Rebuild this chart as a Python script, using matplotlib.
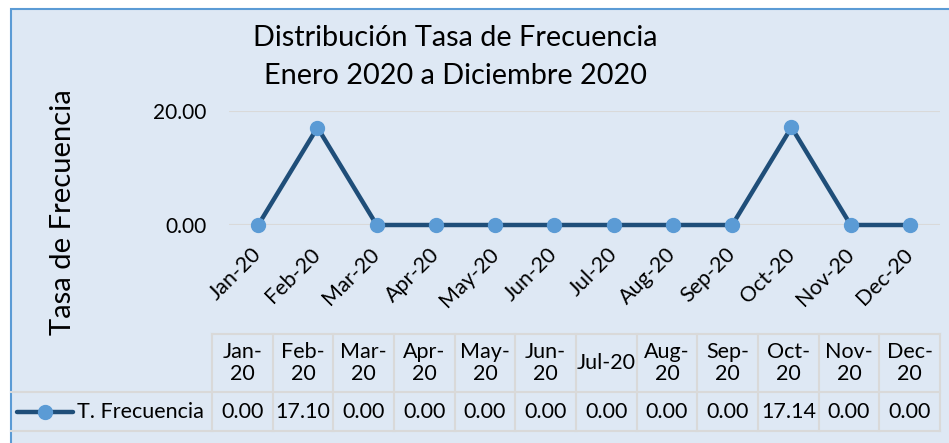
import numpy as np
import matplotlib.pyplot as plt
from matplotlib.patches import Rectangle
from matplotlib.lines import Line2D

plt.rcParams['font.family'] = ['Lato', 'DejaVu Sans']

# datos
meses = ["Jan-20", "Feb-20", "Mar-20", "Apr-20", "May-20", "Jun-20",
         "Jul-20", "Aug-20", "Sep-20", "Oct-20", "Nov-20", "Dec-20"]
encabezados = ["Jan-\n20", "Feb-\n20", "Mar-\n20", "Apr-\n20", "May-\n20", "Jun-\n20",
               "Jul-20", "Aug-\n20", "Sep-\n20", "Oct-\n20", "Nov-\n20", "Dec-\n20"]
tasa = [0.00, 17.10, 0.00, 0.00, 0.00, 0.00, 0.00, 0.00, 0.00, 17.14, 0.00, 0.00]
serie = "T. Frecuencia"
titulo = ["Distribución Tasa de Frecuencia", "Enero 2020 a Diciembre 2020"]

W, H = 949, 443
fondo = "#DEE8F4"
borde = "#5B9BD5"
linea = "#1F4E79"
marcador = "#5B9BD5"
rejilla = "#D9D9D9"

fig = plt.figure(figsize=(W / 100, H / 100), dpi=100)
fig.patch.set_facecolor("white")

# marco del grafico
marco = Rectangle((11 / W, -0.05), 1.0, (H - 9) / H + 0.05,
                  transform=fig.transFigure, facecolor=fondo,
                  edgecolor=borde, linewidth=1.5)
marco.set_zorder(-10)
fig.add_artist(marco)

def px_ax(x0, y0, x1, y1):
    # caja en pixeles (origen arriba-izquierda) -> fraccion de figura
    return [x0 / W, (H - y1) / H, (x1 - x0) / W, (y1 - y0) / H]

## grafico de lineas -----------------------------------
ax = fig.add_axes(px_ax(228.6, 111, 939.6, 225))
ax.set_facecolor("none")
x = np.arange(len(meses))
ax.plot(x, tasa, color=linea, lw=3.2, marker="o", ms=10,
        mfc=marcador, mec=marcador, clip_on=False, zorder=3)
ax.set_xlim(-0.5, len(meses) - 0.5)
ax.set_ylim(0, 20)
ax.set_yticks([0, 20])
ax.set_yticklabels([f"{v:.2f}" for v in [0, 20]], fontsize=15)
ax.grid(axis="y", color=rejilla, lw=1.5)
ax.set_axisbelow(True)
ax.set_xticks(x)
ax.set_xticklabels(meses, rotation=45, ha="right", va="center",
                   rotation_mode="anchor", fontsize=15.5)
ax.tick_params(axis="x", length=0, pad=19)
ax.tick_params(axis="y", length=0, pad=16)
for s in ax.spines.values():
    s.set_visible(False)

for k, t in enumerate(titulo):
    fig.text(455 / W, (H - 46 - 38 * k) / H, t, ha="center", va="baseline",
             fontsize=20.8)
fig.text(63 / W, (H - 212) / H, "Tasa de Frecuencia", rotation=90,
         ha="center", va="center", fontsize=21)

## tabla de datos -------------------------------------
ancho_col = (940 - 212) / 12
ancho_lab = (212 - 11) / ancho_col
tab = fig.add_axes(px_ax(11, 334, 940, 431))
tab.set_xlim(-ancho_lab, 12)
tab.set_ylim(0, 97)
tab.axis("off")
y_fila = 39  # limite entre fila de datos y encabezado
kw = dict(color=rejilla, lw=1.5, clip_on=False)
tab.plot([0, 12], [97, 97], **kw)
tab.plot([-ancho_lab, 12], [y_fila, y_fila], **kw)
tab.plot([-ancho_lab, 12], [0, 0], **kw)
for c in range(13):
    tab.plot([c, c], [0, 97], **kw)
for i, (h, v) in enumerate(zip(encabezados, tasa)):
    tab.text(i + 0.5, (y_fila + 97) / 2, h, ha="center", va="center",
             fontsize=15.5, linespacing=1.1)
    tab.text(i + 0.5, y_fila / 2, f"{v:.2f}", ha="center", va="center",
             fontsize=15.5)
# clave de la leyenda
lx0 = -ancho_lab + 6 / ancho_col
lx1 = -ancho_lab + 62 / ancho_col
tab.add_line(Line2D([lx0, lx1], [y_fila / 2, y_fila / 2], color=linea, lw=3.2,
                    solid_capstyle="round"))
tab.plot([(lx0 + lx1) / 2], [y_fila / 2], marker="o", ms=10, color=marcador)
tab.text(-ancho_lab + 66 / ancho_col, y_fila / 2, serie, ha="left",
         va="center", fontsize=15.5)

fig.savefig("out.png", dpi=100)
